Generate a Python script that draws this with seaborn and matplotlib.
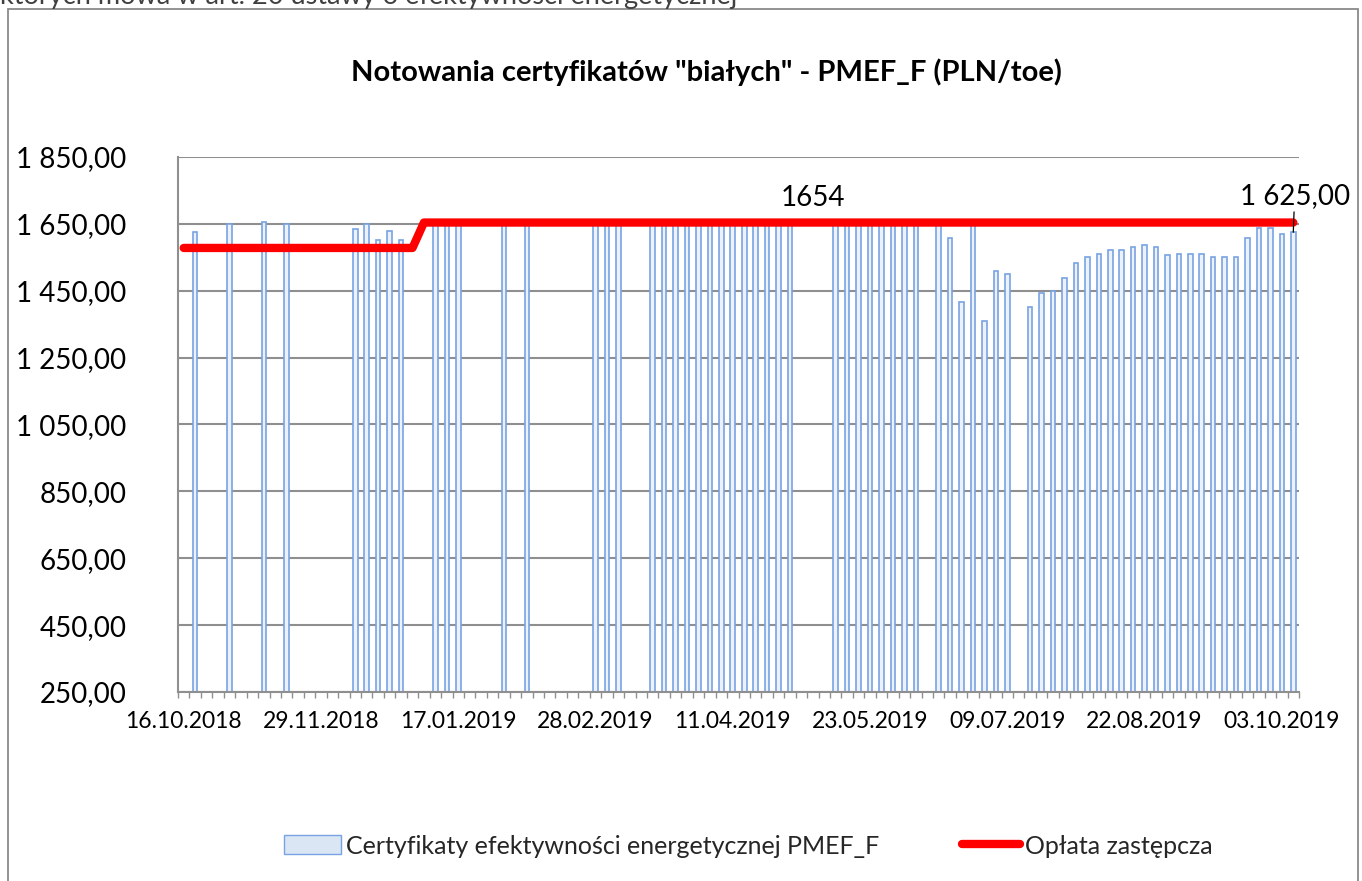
import numpy as np
import pandas as pd
import matplotlib
matplotlib.use("Agg")
import matplotlib.pyplot as plt
import seaborn as sns
from matplotlib.patches import Patch, Rectangle
from matplotlib.lines import Line2D
from matplotlib.ticker import FuncFormatter

# ---------------- data ----------------
# TGE sessions (Tuesday / Thursday) form the category axis
session_start = "2018-10-16"
session_end = "2019-10-08"
session_holidays = ["2018-11-01", "2018-12-25", "2019-01-01", "2019-06-20", "2019-08-15"]

# Certificate quotations PMEF_F (PLN/toe) on sessions with transactions
bar_dates = [
    "2018-10-18", "2018-10-30", "2018-11-13", "2018-11-20", "2018-12-11", "2018-12-13",
    "2018-12-18", "2018-12-20", "2018-12-27", "2019-01-10", "2019-01-15", "2019-01-17",
    "2019-01-31", "2019-02-07", "2019-02-28", "2019-03-05", "2019-03-07", "2019-03-19",
    "2019-03-21", "2019-03-26", "2019-03-28", "2019-04-02", "2019-04-04", "2019-04-09",
    "2019-04-11", "2019-04-16", "2019-04-18", "2019-04-23", "2019-04-25", "2019-04-30",
    "2019-05-14", "2019-05-16", "2019-05-21", "2019-05-23", "2019-05-28", "2019-05-30",
    "2019-06-04", "2019-06-06", "2019-06-13", "2019-06-18", "2019-06-25", "2019-06-27",
    "2019-07-02", "2019-07-04", "2019-07-09", "2019-07-16", "2019-07-18", "2019-07-23",
    "2019-07-25", "2019-07-30", "2019-08-01", "2019-08-06", "2019-08-08", "2019-08-13",
    "2019-08-20", "2019-08-22", "2019-08-27", "2019-08-29", "2019-09-03", "2019-09-05",
    "2019-09-10", "2019-09-12", "2019-09-17", "2019-09-19", "2019-09-24", "2019-09-26",
    "2019-10-01", "2019-10-03", "2019-10-08",
]
bar_values = [
    1627, 1650, 1655, 1650, 1636, 1650,
    1601, 1628, 1601, 1650, 1650, 1650,
    1650, 1650, 1650, 1650, 1650, 1650,
    1650, 1650, 1650, 1650, 1650, 1650,
    1650, 1650, 1650, 1650, 1650, 1650,
    1650, 1650, 1650, 1650, 1650, 1650,
    1650, 1650, 1650, 1608, 1417, 1650,
    1361, 1509, 1501, 1402, 1442, 1448,
    1487, 1533, 1552, 1560, 1571, 1571,
    1582, 1586, 1582, 1556, 1559, 1559,
    1559, 1551, 1551, 1551, 1608, 1638,
    1638, 1620, 1625,
]

# Opłata zastępcza (PLN/toe) for each session
oplata_values = [
    1578, 1578, 1578, 1578, 1578, 1578, 1578, 1578, 1578, 1578,
    1578, 1578, 1578, 1578, 1578, 1578, 1578, 1578, 1578, 1578,
    1578, 1654, 1654, 1654, 1654, 1654, 1654, 1654, 1654, 1654,
    1654, 1654, 1654, 1654, 1654, 1654, 1654, 1654, 1654, 1654,
    1654, 1654, 1654, 1654, 1654, 1654, 1654, 1654, 1654, 1654,
    1654, 1654, 1654, 1654, 1654, 1654, 1654, 1654, 1654, 1654,
    1654, 1654, 1654, 1654, 1654, 1654, 1654, 1654, 1654, 1654,
    1654, 1654, 1654, 1654, 1654, 1654, 1654, 1654, 1654, 1654,
    1654, 1654, 1654, 1654, 1654, 1654, 1654, 1654, 1654, 1654,
    1654, 1654, 1654, 1654, 1654, 1654, 1654, 1654,
]

y_ticks = [250, 450, 650, 850, 1050, 1250, 1450, 1650, 1850]
label_every = 12
oplata_label_date = "2019-05-07"
last_label_date = "2019-10-08"

title = 'Notowania certyfikatów "białych" - PMEF_F (PLN/toe)'
series_bar = "Certyfikaty efektywności energetycznej PMEF_F"
series_line = "Opłata zastępcza"
top_cut_text = "których mowa w art. 20 ustawy o efektywności energetycznej"

# ---------------- build ----------------
sessions = pd.bdate_range(session_start, session_end, freq="C",
                          weekmask="Tue Thu", holidays=session_holidays)
n = len(sessions)
pos_of = {d.strftime("%Y-%m-%d"): i for i, d in enumerate(sessions)}
bars = pd.DataFrame({"pos": [pos_of[d] for d in bar_dates], "value": bar_values})
line = pd.DataFrame({"pos": np.arange(n), "value": oplata_values[:n]})

sns.set_theme(style="white")
plt.rcParams["font.family"] = ["Lato", "DejaVu Sans"]

W, H = 1362, 881
fig = plt.figure(figsize=(W / 100, H / 100), dpi=100)
ax = fig.add_axes([178 / W, 1 - 692 / H, 1121 / W, (692 - 157) / H])

grid_col = "#8f8f8f"
bar_edge = "#78a3e3"
bar_fill = "#edf2fa"

sns.barplot(data=bars, x="pos", y="value", native_scale=True, width=0.4,
            color=bar_fill, saturation=1, edgecolor=bar_edge, linewidth=1.2,
            ax=ax, zorder=2)
sns.lineplot(data=line, x="pos", y="value", color="#ff0000", linewidth=6,
             solid_capstyle="round", ax=ax, zorder=3, legend=False)

ax.set_xlim(-0.5, n - 0.5)
ax.set_ylim(y_ticks[0], y_ticks[-1])
ax.set_yticks(y_ticks)
ax.yaxis.set_major_formatter(FuncFormatter(
    lambda v, p: f"{v:,.2f}".replace(",", " ").replace(".", ",")))
ax.yaxis.grid(True, color=grid_col, linewidth=1.5)
ax.set_axisbelow(True)

major = list(range(0, n, label_every))
ax.set_xticks(major)
ax.set_xticklabels([sessions[i].strftime("%d.%m.%Y") for i in major])
ax.set_xticks(np.arange(-0.5, n, 1), minor=True)
ax.set_xlabel("")
ax.set_ylabel("")

for s in ["top", "right"]:
    ax.spines[s].set_visible(False)
for s in ["left", "bottom"]:
    ax.spines[s].set_color(grid_col)
    ax.spines[s].set_linewidth(1.5)

ax.tick_params(axis="y", which="major", length=4, width=1.5, color=grid_col,
               labelsize=20, pad=33, labelcolor="black")
ax.tick_params(axis="x", which="major", length=0, labelsize=16.5, pad=14,
               labelcolor="black")
ax.tick_params(axis="x", which="minor", length=4.5, width=1, color=grid_col,
               bottom=True)

# data labels
ax.annotate("1654", xy=(pos_of[oplata_label_date], oplata_values[pos_of[oplata_label_date]]),
            xytext=(0, 8), textcoords="offset points", ha="center", va="bottom",
            fontsize=20, color="black", annotation_clip=False)
lp = pos_of[last_label_date]
lv = bar_values[bar_dates.index(last_label_date)]
ax.annotate(f"{lv:,.2f}".replace(",", " ").replace(".", ","), xy=(lp, lv),
            xytext=(1, 17), textcoords="offset points", ha="center", va="bottom",
            fontsize=20, color="black", annotation_clip=False,
            arrowprops=dict(arrowstyle="-", color="black", lw=0.9,
                            shrinkA=0, shrinkB=0))

# title
fig.text(706 / W, 1 - 72 / H, title, ha="center", va="center",
         fontsize=21, fontweight="bold", color="black")

# legend
handles = [Patch(facecolor="#dbe6f5", edgecolor=bar_edge, linewidth=1.0),
           Line2D([0], [0], color="#ff0000", linewidth=6, solid_capstyle="round")]
fig.legend(handles, [series_bar, series_line], loc="center",
           bbox_to_anchor=(748 / W, 1 - 846 / H), ncol=2, frameon=False,
           fontsize=18, handlelength=2.3, handleheight=0.8, handletextpad=0.2,
           columnspacing=3.3)

# chart frame and cut text at top
fig.add_artist(Rectangle((8 / W, -0.02), (1358 - 8) / W, 1.02 - 9 / H,
                         transform=fig.transFigure, fill=False,
                         edgecolor="#8a8a8a", linewidth=1.3, zorder=0))
fig.text(0, 1 - 4 / H, top_cut_text, ha="left", va="baseline",
         fontsize=19.5, color="#404040")

fig.savefig("out.png", dpi=100)
